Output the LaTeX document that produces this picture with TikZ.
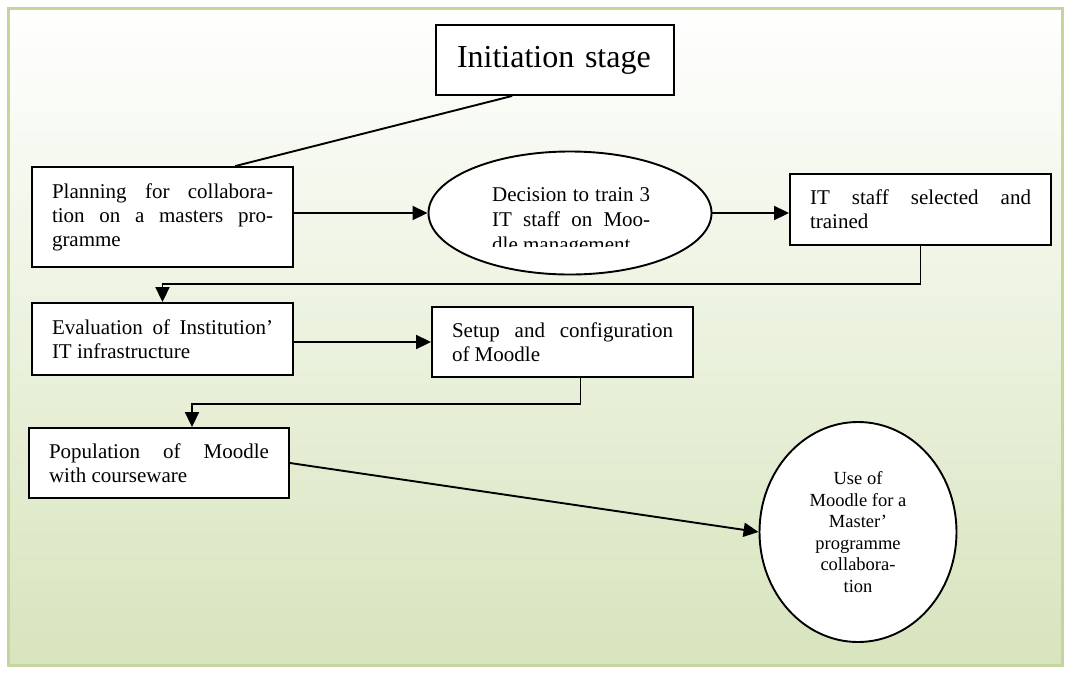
\documentclass[tikz,border=0pt]{standalone}
\usepackage{fontspec}
\setmainfont{Liberation Serif}
\usepackage{tikz}
\usetikzlibrary{arrows.meta,shapes.geometric}
\definecolor{olivelight}{HTML}{D7E4BD}
\definecolor{oliveedge}{HTML}{C3D69B}
\tikzstyle{stage} = [draw, line width=1.9pt, fill=white, inner xsep=20pt, inner ysep=0pt, align=justify, font=\fontsize{21}{24}\selectfont]
\tikzstyle{oval} = [draw, ellipse, line width=1.9pt, fill=white, inner sep=0pt]
\tikzstyle{flow} = [line width=1.9pt, -{Triangle[length=15pt,width=14pt]}]
\tikzstyle{link} = [line width=1.9pt]

\begin{document}
\begin{tikzpicture}[x=1pt,y=-1pt]
\useasboundingbox (0,0) rectangle (1070,675);
\shade[top color=white, bottom color=olivelight] (8,8) rectangle (1062,665);
\draw[oliveedge, line width=3pt] (8,8) rectangle (1062,665);
\node[stage, minimum width=238pt, minimum height=70pt, text width=196pt, inner xsep=21pt, align=left, font=\fontsize{32}{38}\selectfont] (init) at (555,60) {Initiation stage};
\node[stage, text width=221pt, minimum width=261pt, minimum height=100pt] (plan) at (162.5,217) {Planning for collabora-\linebreak tion on a masters pro-\linebreak gramme};
\node[oval, minimum width=283pt, minimum height=123pt] (dec) at (570,213) {};
\begin{scope}
  \clip (480,178) rectangle (662,246);
  \node[anchor=base west, text width=158pt, inner sep=0pt, align=justify, font=\fontsize{21}{25}\selectfont] (dectext) at (492,201) {Decision to train 3\linebreak IT staff on Moo-\linebreak dle management};
\end{scope}
\node[stage, text width=221pt, minimum width=261pt, minimum height=71pt] (it) at (920.5,209.5) {IT staff selected and\linebreak trained};
\node[stage, text width=221pt, minimum width=261pt, minimum height=72pt] (eval) at (162.5,339) {Evaluation of Institution’\linebreak IT infrastructure};
\node[stage, text width=221pt, minimum width=261pt, minimum height=70pt] (setup) at (562.5,342) {Setup and configuration\linebreak of Moodle};
\node[stage, text width=220pt, minimum width=260pt, minimum height=70pt] (pop) at (159,463) {Population of Moodle\linebreak with courseware};
\node[oval, minimum width=197pt, minimum height=220pt, align=center, font=\fontsize{18.5}{21.5}\selectfont] (use) at (858,532) {Use of\\ Moodle for a\\ Master’\\ programme\\ collabora-\\ tion};
\draw[link] (init.220) -- (plan.35);
\draw[flow] (plan.east |- dec.west) -- (dec.west);
\draw[flow] (dec.east) -- (dec.east -| it.west);
\draw[flow] (it.south) -- ++(0,38) -| (eval.north);
\draw[flow] (eval.east |- setup.west) -- (setup.west);
\draw[flow] ([xshift=18pt]setup.south) -- ++(0,26) -| ([xshift=33pt]pop.north);
\draw[flow] (pop.east) -- (use.west);
\end{tikzpicture}
\end{document}
